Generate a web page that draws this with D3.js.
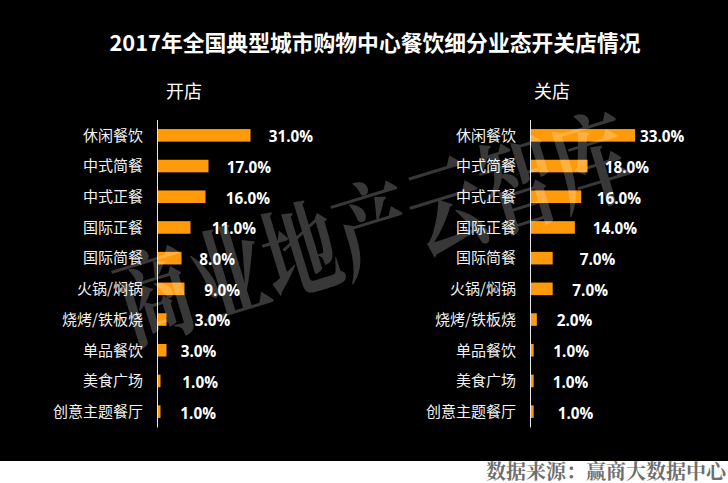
<!DOCTYPE html>
<html><head><meta charset="utf-8">
<script src="https://cdn.jsdelivr.net/npm/d3@7"></script>
<style>html,body{margin:0;padding:0;background:#fff;overflow:hidden}svg{display:block}</style>
</head><body><svg id="c" width="728" height="483"></svg>
<script>
const categories=["休闲餐饮","中式简餐","中式正餐","国际正餐","国际简餐","火锅/焖锅","烧烤/铁板烧","单品餐饮","美食广场","创意主题餐厅"];
const openValues=[31,17,16,11,8,9,3,3,1,1];
const closeValues=[33,18,16,14,7,7,2,1,1,1];
const openLabelX=[111.2,69.2,68.2,54.2,41.8,46.8,37.2,23.2,24.8,22.8];
const closeLabelX=[109.5,74.2,66.2,62.2,49.2,41.8,26.2,22.8,22.2,27.2];
const sans='"Noto Sans CJK SC","Noto Sans",sans-serif';
const serif='"Noto Serif CJK SC","Liberation Serif","DejaVu Serif","Noto Sans CJK SC",serif';
const svg=d3.select("#c");
svg.append("rect").attr("width",728).attr("height",461).attr("fill","#000");
svg.append("text").attr("x",375).attr("y",50.5).attr("text-anchor","middle").attr("fill","#fff")
 .attr("font-family",sans).attr("font-weight",700).attr("font-size",21.8).text("2017年全国典型城市购物中心餐饮细分业态开关店情况");
function panel(ax,perUnit,vals,labelX,title,titleX){
 const y=d3.scaleBand().domain(categories).range([120,427]).paddingInner(0.59).paddingOuter(0.295);
 const x=d3.scaleLinear().domain([0,35]).range([ax,ax+35*perUnit]);
 svg.append("text").attr("x",titleX).attr("y",98).attr("text-anchor","middle").attr("fill","#fff")
  .attr("font-family",sans).attr("font-size",18).text(title);
 svg.selectAll(null).data(categories).join("text").attr("x",ax-14.5).attr("y",c=>y(c)+y.bandwidth()/2)
  .attr("dy","0.35em").attr("text-anchor","end").attr("fill","#f2f2f2").attr("font-family",sans).attr("font-size",15).text(c=>c);
 svg.selectAll(null).data(vals).join("rect").attr("x",x(0)).attr("y",(d,i)=>y(categories[i]))
  .attr("width",d=>x(d)-x(0)).attr("height",y.bandwidth()).attr("fill","#ff9a0a");
 svg.append("line").attr("x1",ax).attr("x2",ax).attr("y1",120).attr("y2",427.5).attr("stroke","#e8e8e8").attr("stroke-width",1);
 svg.selectAll(null).data(vals).join("text").attr("x",(d,i)=>ax+labelX[i]).attr("y",(d,i)=>y(categories[i])+y.bandwidth()/2+1.5)
  .attr("dy","0.35em").attr("fill","#fff").attr("font-family",'"Open Sans",sans-serif').attr("font-weight",700).attr("font-size",15.3)
  .text(d=>d3.format(".1f")(d)+"%");
}
panel(157.5,3,openValues,openLabelX,"开店",184);
panel(530.5,3.17,closeValues,closeLabelX,"关店",552);
svg.append("text").attr("transform","translate(130,343) rotate(-17) scale(1,1.35)").attr("fill","rgba(255,255,255,0.22)")
 .attr("font-family",serif).attr("font-weight",700).attr("font-size",76).text("商业地产云智库");
svg.append("text").attr("x",726).attr("y",478.5).attr("text-anchor","end").attr("fill","#6e6e6e")
 .attr("font-family",serif).attr("font-weight",700).attr("font-size",20).text("数据来源：赢商大数据中心");
</script></body></html>
